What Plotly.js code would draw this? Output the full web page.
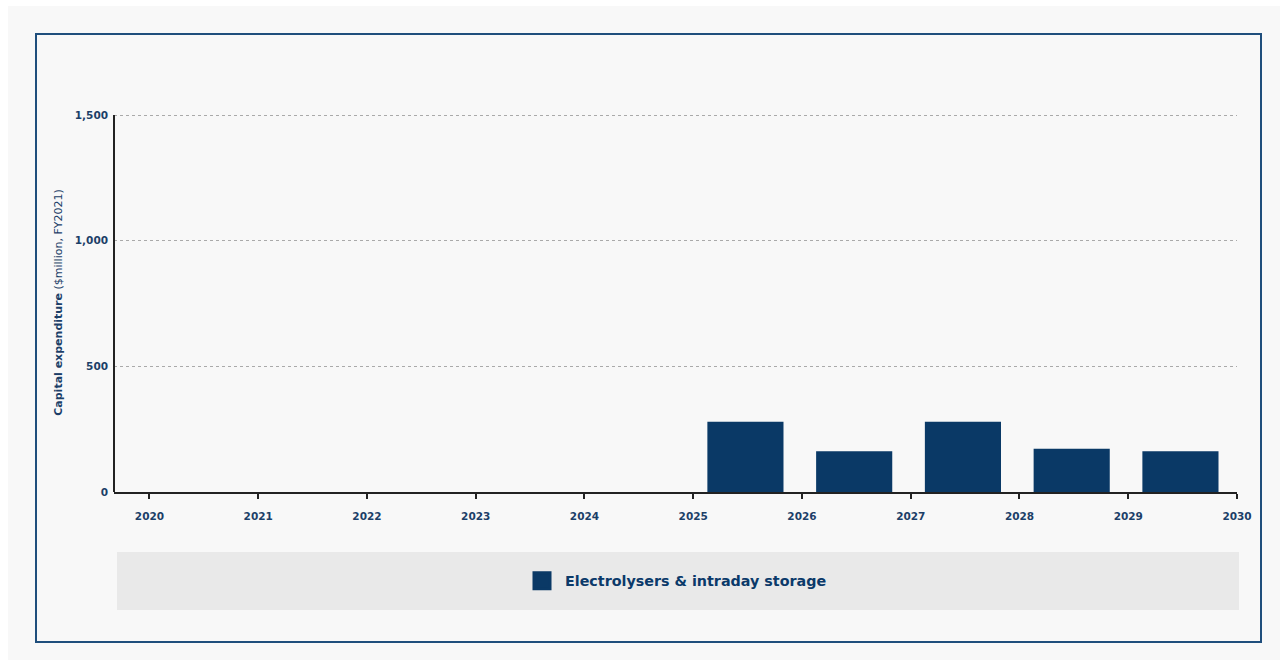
<!DOCTYPE html>
<html>
<head>
<meta charset="utf-8">
<script src="https://cdn.plot.ly/plotly-3.0.1.min.js"></script>
<style>
  html, body { margin: 0; padding: 0; background: #ffffff; }
  #page { position: absolute; left: 0; top: 0; width: 1287px; height: 663px; overflow: hidden; }
  #sheet { position: absolute; left: 8px; top: 6px; width: 1272px; height: 654px; background: #f8f8f8; }
  #frame { position: absolute; left: 35px; top: 33px; width: 1223px; height: 606px;
           border: 2.5px solid #1f4e7c; box-sizing: content-box; }
  #chart { position: absolute; left: 0; top: 0; width: 1287px; height: 663px; }
</style>
</head>
<body>
<div id="page">
  <div id="sheet"></div>
  <div id="frame"></div>
  <div id="chart"></div>
</div>
<script>
// Capital expenditure by year ($million, FY2021)
const years = [2025, 2026, 2027, 2028, 2029];
const capex = [280, 162, 280, 172, 162];
const seriesName = 'Electrolysers & intraday storage';
const yearTicks = [2020, 2021, 2022, 2023, 2024, 2025, 2026, 2027, 2028, 2029, 2030];
const yTicks = [0, 500, 1000, 1500];
const yTickText = ['0', '500', '1,000', '1,500'];

const navy = '#0a3966';
const labelBlue = '#1c3f68';
const font = 'DejaVu Sans, Verdana, sans-serif';

const traces = [
  {
    type: 'bar',
    x: years,
    y: capex,
    offset: 0.13,
    width: 0.70,
    marker: { color: navy, line: { width: 0 } },
    showlegend: false,
    hoverinfo: 'x+y'
  },
  {
    // legend entry for the series
    type: 'scatter',
    mode: 'markers',
    x: [null],
    y: [null],
    name: seriesName,
    marker: { symbol: 'square', size: 16, color: navy, line: { width: 3, color: navy } },
    showlegend: true
  }
];

const layout = {
  width: 1287,
  height: 663,
  margin: { l: 114, r: 50, t: 113, b: 171 },
  paper_bgcolor: 'rgba(0,0,0,0)',
  plot_bgcolor: 'rgba(0,0,0,0)',
  font: { family: font, color: labelBlue },
  xaxis: {
    range: [2019.674, 2030],
    tickmode: 'array',
    tickvals: yearTicks,
    ticktext: yearTicks.map(String),
    showgrid: false,
    zeroline: false,
    showline: true,
    linecolor: '#222222',
    linewidth: 2,
    ticks: 'outside',
    ticklen: 5,
    tickwidth: 2,
    tickcolor: '#222222',
    ticklabelstandoff: 8,
    tickfont: { family: font, size: 10.5, weight: 'bold', color: labelBlue },
    fixedrange: true
  },
  yaxis: {
    range: [0, 1508],
    tickmode: 'array',
    tickvals: yTicks,
    ticktext: yTickText,
    showgrid: true,
    gridcolor: '#aaaaaa',
    gridwidth: 1,
    griddash: 'dot',
    zeroline: false,
    showline: false,
    ticks: '',
    ticklabelstandoff: 5,
    tickfont: { family: font, size: 10.5, weight: 'bold', color: labelBlue },
    title: {
      text: '<b>Capital expenditure</b> ($million, FY2021)',
      font: { family: font, size: 11, color: labelBlue },
      standoff: 9
    },
    automargin: false,
    fixedrange: true
  },
  showlegend: true,
  legend: {
    orientation: 'h',
    x: 0.5,
    xanchor: 'center',
    y: -0.2348,
    yanchor: 'middle',
    bgcolor: 'rgba(0,0,0,0)',
    font: { family: font, size: 14.3, weight: 'bold', color: '#0b3a6a' },
    itemsizing: 'trace',
    itemwidth: 36
  },
  shapes: [
    {
      // legend band
      type: 'rect',
      xref: 'paper', yref: 'paper',
      x0: 0.0027, x1: 1.0018,
      y0: -0.1583, y1: -0.3113,
      fillcolor: '#e9e9e9',
      line: { width: 0 },
      layer: 'below'
    },
    {
      // value axis line, from zero up to the top tick
      type: 'line',
      xref: 'paper', yref: 'y',
      x0: 0, x1: 0,
      y0: 0, y1: 1500,
      line: { color: '#222222', width: 2 }
    }
  ]
};

Plotly.newPlot('chart', traces, layout, { displayModeBar: false });
</script>
</body>
</html>
